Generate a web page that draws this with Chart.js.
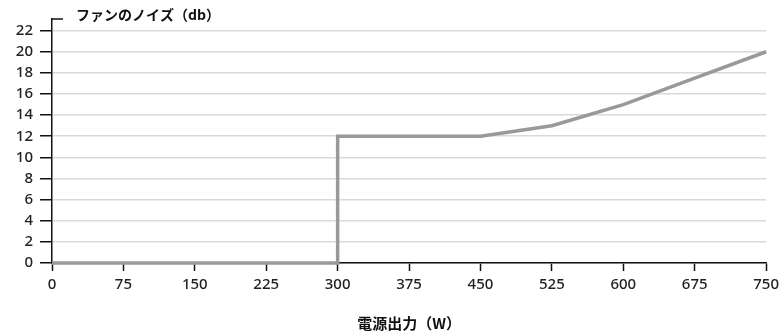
<!DOCTYPE html>
<html>
<head>
<meta charset="utf-8">
<script src="https://cdn.jsdelivr.net/npm/chart.js@4/dist/chart.umd.min.js"></script>
<style>
  html, body { margin: 0; padding: 0; background: #fff; }
  #wrap { width: 784px; height: 332px; position: relative; }
</style>
</head>
<body>
<div id="wrap"><canvas id="noiseChart"></canvas></div>
<script>
// power output (W) and fan noise (db)
const powerValues = [0, 300, 300, 450, 525, 600, 675, 750];
const noiseValues = [0, 0, 12, 12, 13, 15, 17.5, 20];
const xTicks = [0, 75, 150, 225, 300, 375, 450, 525, 600, 675, 750];
const yTicks = [0, 2, 4, 6, 8, 10, 12, 14, 16, 18, 20, 22];
const chartTitle = 'ファンのノイズ（db）';
const xTitle = '電源出力（W）';

const tickFont = { family: '"Noto Sans", "Open Sans", sans-serif', size: 15, weight: 500 };
const titleFont = '"Noto Sans CJK JP", sans-serif';

const points = powerValues.map((x, i) => ({ x: x, y: noiseValues[i] }));

// draws the small cap at the top of the y axis and the chart title
const topDecor = {
  id: 'topDecor',
  afterDraw(chart) {
    const ctx = chart.ctx;
    const area = chart.chartArea;
    ctx.save();
    ctx.strokeStyle = '#111';
    ctx.lineWidth = 1.5;
    ctx.beginPath();
    ctx.moveTo(area.left, area.top);
    ctx.lineTo(area.left + 11, area.top);
    ctx.stroke();
    ctx.fillStyle = '#111';
    ctx.font = 'bold 14px ' + titleFont;
    ctx.textBaseline = 'middle';
    ctx.fillText(chartTitle, area.left + 24, area.top - 4);
    ctx.restore();
  }
};

new Chart(document.getElementById('noiseChart'), {
  type: 'line',
  data: {
    datasets: [{
      data: points,
      borderColor: '#999999',
      borderWidth: 3.5,
      pointRadius: 0,
      tension: 0,
      fill: false,
      clip: false
    }]
  },
  options: {
    responsive: true,
    maintainAspectRatio: false,
    animation: false,
    layout: { padding: { top: 19, right: 13, left: 0, bottom: 0 } },
    plugins: {
      legend: { display: false },
      tooltip: { enabled: false }
    },
    scales: {
      x: {
        type: 'linear',
        min: 0,
        max: 750,
        afterBuildTicks: (scale) => { scale.ticks = xTicks.map(v => ({ value: v })); },
        afterFit: (scale) => { scale.height = 69; },
        border: { color: '#111', width: 1.5 },
        grid: { drawOnChartArea: false, drawTicks: true, tickLength: 8, tickColor: '#111', tickWidth: 1.5 },
        ticks: { color: '#222', font: tickFont, padding: 5, maxRotation: 0 },
        title: {
          display: true,
          text: xTitle,
          color: '#111',
          font: { family: titleFont, size: 15, weight: 'bold' },
          padding: { top: 10, bottom: 0 }
        }
      },
      y: {
        min: 0,
        max: 23.1,
        afterBuildTicks: (scale) => { scale.ticks = yTicks.map(v => ({ value: v })); },
        afterFit: (scale) => { scale.width = 52; },
        border: { color: '#111', width: 1.5 },
        grid: {
          color: '#d9d9d9',
          lineWidth: 1.5,
          drawTicks: true,
          tickLength: 12,
          tickColor: '#111',
          tickWidth: 1.5
        },
        ticks: { color: '#222', font: tickFont, padding: 7 }
      }
    }
  },
  plugins: [topDecor]
});
</script>
</body>
</html>
